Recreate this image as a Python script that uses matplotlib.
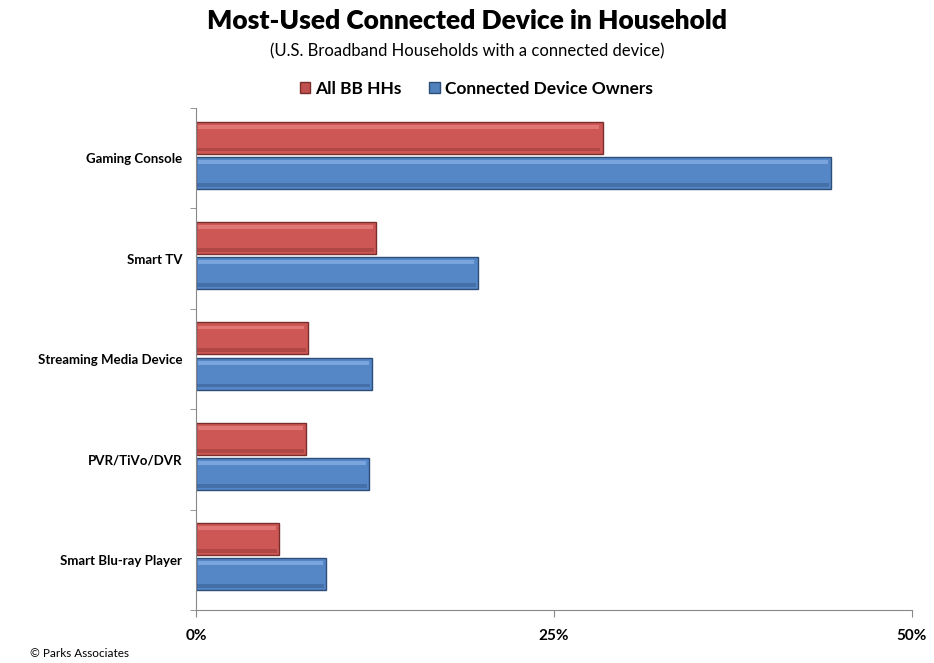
import numpy as np
import matplotlib.pyplot as plt

plt.rcParams['font.family'] = ['Lato', 'DejaVu Sans']

categories = ['Gaming Console', 'Smart TV', 'Streaming Media Device',
              'PVR/TiVo/DVR', 'Smart Blu-ray Player']
all_bb = [28.4, 12.6, 7.8, 7.7, 5.8]
device_owners = [44.4, 19.7, 12.3, 12.1, 9.1]
series_names = ['All BB HHs', 'Connected Device Owners']
xticks = [0, 25, 50]

fig = plt.figure(figsize=(9.34, 6.63), dpi=100)
ax = fig.add_axes([0.21, 0.080, 0.766, 0.757])

y = np.arange(len(categories)) - 0.03
h = 0.32
gap = 0.015


def bevel_bars(ax, ypos, vals, face, edge, light, dark, label):
    # main bar
    ax.barh(ypos, vals, height=h, color=face, edgecolor=edge, linewidth=1.0,
            label=label, zorder=2)
    # soft top highlight and bottom shadow, gives the bevel look
    ax.barh(ypos - h * 0.34, np.array(vals) - 0.35, left=0.1, height=h * 0.12,
            color=light, linewidth=0, zorder=3, alpha=0.6)
    ax.barh(ypos + h * 0.37, np.array(vals) - 0.2, left=0.05, height=h * 0.12,
            color=dark, linewidth=0, zorder=3, alpha=0.5)


bevel_bars(ax, y - h / 2 - gap, all_bb, '#CD5755', '#7A2E2C', '#EE8D8A', '#943835',
           series_names[0])
bevel_bars(ax, y + h / 2 + gap, device_owners, '#5587C7', '#2D4E78', '#93B9EE', '#35598A',
           series_names[1])

ax.set_xlim(0, 50)
ax.set_ylim(len(categories) - 0.5, -0.5)
ax.set_xticks(xticks)
ax.set_xticklabels([f'{t}%' for t in xticks], fontweight='bold', fontsize=11)
ax.set_yticks(np.arange(len(categories)))
ax.set_yticklabels(categories, fontweight='bold', fontsize=9.5)
ax.set_yticks(np.arange(len(categories) + 1) - 0.5, minor=True)
ax.tick_params(axis='y', which='major', length=0, pad=10)
ax.tick_params(axis='y', which='minor', length=4, color='#888888')
ax.tick_params(axis='x', length=5, color='#888888', pad=9)

for s in ['top', 'right']:
    ax.spines[s].set_visible(False)
ax.spines['left'].set_color('#888888')
ax.spines['bottom'].set_color('#888888')

fig.text(0.5, 0.968, 'Most-Used Connected Device in Household', ha='center', va='center',
         fontsize=19, fontweight='heavy')
fig.text(0.5, 0.923, '(U.S. Broadband Households with a connected device)', ha='center',
         va='center', fontsize=12)

handles = [plt.Rectangle((0, 0), 1, 1, fc='#C0504D', ec='#7A2E2C'),
           plt.Rectangle((0, 0), 1, 1, fc='#4F81BD', ec='#2D4E78')]
fig.legend(handles, series_names, loc='center', bbox_to_anchor=(0.51, 0.866), ncol=2,
           frameon=False, prop={'weight': 'bold', 'size': 12.5}, handlelength=0.6,
           handleheight=0.6, handletextpad=0.3, columnspacing=1.6)

fig.text(0.032, 0.015, '\u00a9 Parks Associates', ha='left', va='center', fontsize=8.5)

fig.savefig('out.png', dpi=100)
